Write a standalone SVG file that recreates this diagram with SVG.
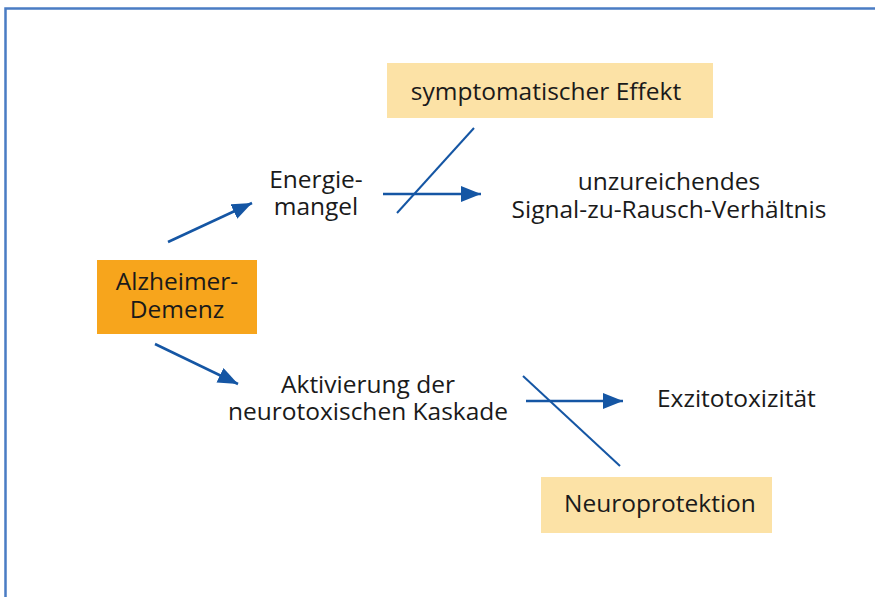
<svg xmlns="http://www.w3.org/2000/svg" width="875" height="597" viewBox="0 0 875 597">
<style>
text{font-family:"Open Sans","Noto Sans","Liberation Sans",sans-serif;fill:#1a1a1a;font-size:24.5px}
.c{stroke:#1556a4;stroke-width:2.5;fill:none}
.x{stroke:#1556a4;stroke-width:2;fill:none}
</style>
<defs>
<marker id="ah" viewBox="0 0 20 16" refX="20" refY="8" markerWidth="20" markerHeight="16" markerUnits="userSpaceOnUse" orient="auto">
<path d="M0,0 L20,8 L0,16 Z" fill="#1556a4"/>
</marker>
</defs>
<rect width="875" height="597" fill="#fff"/>
<path d="M5.5,597 V8.5 H875" fill="none" stroke="#4a7cc4" stroke-width="2.5"/>
<g id="alzheimer">
<rect x="97" y="260" width="160" height="74" fill="#f7a51c"/>
<text x="177" y="290" text-anchor="middle" font-size="23.5">Alzheimer-</text>
<text x="177" y="318" text-anchor="middle" font-size="23.5">Demenz</text>
</g>
<g id="energiemangel">
<text x="316" y="188" text-anchor="middle">Energie-</text>
<text x="316" y="215" text-anchor="middle">mangel</text>
</g>
<g id="aktivierung">
<text x="368" y="393" text-anchor="middle">Aktivierung der</text>
<text x="368" y="420" text-anchor="middle">neurotoxischen Kaskade</text>
</g>
<g id="symptomatisch">
<rect x="387" y="63" width="326" height="55" fill="#fce2a6"/>
<text x="546" y="100" text-anchor="middle">symptomatischer Effekt</text>
</g>
<g id="signal">
<text x="669" y="190" text-anchor="middle">unzureichendes</text>
<text x="669" y="218" text-anchor="middle">Signal-zu-Rausch-Verhältnis</text>
</g>
<g id="exzitotoxizitaet">
<text x="657" y="407">Exzitotoxizität</text>
</g>
<g id="neuroprotektion">
<rect x="541" y="477" width="231" height="56" fill="#fce2a6"/>
<text x="660" y="512" text-anchor="middle">Neuroprotektion</text>
</g>
<g id="connectors">
<line class="c" x1="168" y1="242" x2="252" y2="203" marker-end="url(#ah)"/>
<line class="c" x1="155" y1="344" x2="238" y2="384" marker-end="url(#ah)"/>
<line class="c" x1="383" y1="194" x2="481" y2="194" marker-end="url(#ah)"/>
<line class="x" x1="474" y1="128" x2="397" y2="213"/>
<line class="c" x1="526" y1="401" x2="623" y2="401" marker-end="url(#ah)"/>
<line class="x" x1="523" y1="376" x2="620" y2="466"/>
</g>
</svg>
